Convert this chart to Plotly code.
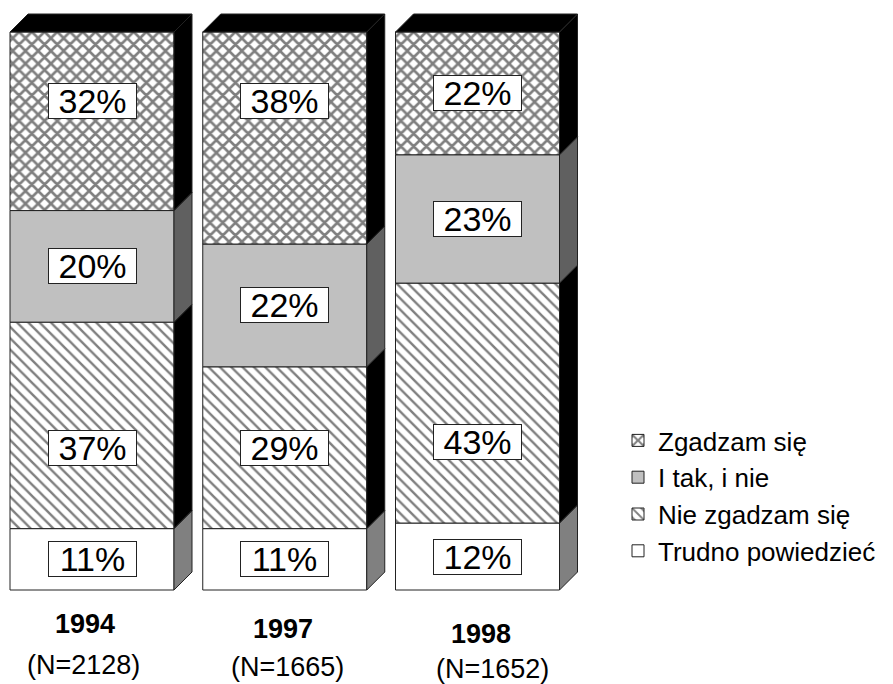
import plotly.graph_objects as go

# ---------------- data ----------------
years = ["1994", "1997", "1998"]
sample_n = ["(N=2128)", "(N=1665)", "(N=1652)"]
series_names = ["Trudno powiedzieć", "Nie zgadzam się", "I tak, i nie", "Zgadzam się"]
trudno = [11, 11, 12]
nie_zgadzam = [37, 29, 43]
i_tak_i_nie = [20, 22, 23]
zgadzam = [32, 38, 22]
values = [trudno, nie_zgadzam, i_tak_i_nie, zgadzam]

# ---------------- layout constants (pixels) ----------------
W, H = 893, 684
X0_PX, PITCH_PX, BAR_PX = 92.0, 192.75, 164.0
Y0_PX, Y100_PX = 590.0, 32.0
DEPTH_PX = 18.0
FONT = "Liberation Sans, Arial, sans-serif"

ppu_y = (Y0_PX - Y100_PX) / 100.0
x_range = [(0 - X0_PX) / PITCH_PX, (W - X0_PX) / PITCH_PX]
y_range = [-(H - Y0_PX) / ppu_y, 100 + Y100_PX / ppu_y]
bar_w = BAR_PX / PITCH_PX
dx = DEPTH_PX / PITCH_PX
dy = DEPTH_PX / ppu_y

styles = {
    "Trudno powiedzieć": dict(color="white", pattern=None, side="#808080"),
    "Nie zgadzam się": dict(color="white", pattern=dict(shape="\\", fgcolor="black", bgcolor="white", size=8, solidity=0.3), side="black"),
    "I tak, i nie": dict(color="#c0c0c0", pattern=None, side="#606060"),
    "Zgadzam się": dict(color="white", pattern=dict(shape="x", fgcolor="black", bgcolor="white", size=9, solidity=0.5), side="black"),
}

xs = list(range(len(years)))
fig = go.Figure()

bases = [0] * len(years)
seg_info = []
for name, vals in zip(series_names, values):
    st = styles[name]
    marker = dict(color=st["color"], line=dict(color="#222222", width=1))
    if st["pattern"]:
        marker["pattern"] = st["pattern"]
    fig.add_trace(go.Bar(
        x=xs, y=vals, base=bases, width=bar_w, name=name, marker=marker,
        hoverinfo="skip",
    ))
    seg_info.append((name, list(bases), list(vals)))
    bases = [b + v for b, v in zip(bases, vals)]

# side faces (3D effect) derived from stacked values
for name, bs, vs in seg_info:
    for i, (b, v) in enumerate(zip(bs, vs)):
        xr = xs[i] + bar_w / 2
        t = b + v
        fig.add_trace(go.Scatter(
            x=[xr, xr + dx, xr + dx, xr, xr],
            y=[b, b + dy, t + dy, t, b],
            fill="toself", fillcolor=styles[name]["side"],
            line=dict(color="#222222", width=1), mode="lines",
            showlegend=False, hoverinfo="skip",
        ))

# top faces
for i, tot in enumerate(bases):
    xl = xs[i] - bar_w / 2
    xr = xs[i] + bar_w / 2
    fig.add_trace(go.Scatter(
        x=[xl, xl + dx, xr + dx, xr, xl],
        y=[tot, tot + dy, tot + dy, tot, tot],
        fill="toself", fillcolor="black",
        line=dict(color="#222222", width=1), mode="lines",
        showlegend=False, hoverinfo="skip",
    ))

# value labels
annotations = []
for name, bs, vs in seg_info:
    for i, (b, v) in enumerate(zip(bs, vs)):
        yc = b + v / 2
        if name == "Zgadzam się":
            yc = max(yc, b + v - 12.3)
        elif name == "Nie zgadzam się":
            yc = min(yc, b + 14.5)
        annotations.append(dict(
            x=xs[i], y=yc, xref="x", yref="y", text=f"{v}%", showarrow=False,
            font=dict(family=FONT, size=34, color="black"),
            bgcolor="white", bordercolor="#222222", borderwidth=1, borderpad=0,
            width=87, height=34, xanchor="center", yanchor="middle",
        ))

# category labels (slightly staggered as in the original)
for i, (yr, n) in enumerate(zip(years, sample_n)):
    annotations.append(dict(
        x=xs[i] + (-7 + 5 * i) / PITCH_PX, y=-(624 + 5 * i - Y0_PX) / ppu_y,
        xref="x", yref="y", text=f"<b>{yr}</b>", showarrow=False,
        font=dict(family=FONT, size=27, color="black"),
        xanchor="center", yanchor="middle",
    ))
    annotations.append(dict(
        x=xs[i] + (-9 + 12 * i) / PITCH_PX, y=-(665 + 2 * i - Y0_PX) / ppu_y,
        xref="x", yref="y", text=n, showarrow=False,
        font=dict(family=FONT, size=27, color="black"),
        xanchor="center", yanchor="middle",
    ))

fig.update_layout(
    width=W, height=H, margin=dict(l=0, r=0, t=0, b=0),
    paper_bgcolor="white", plot_bgcolor="white",
    barmode="overlay",
    xaxis=dict(range=x_range, visible=False, fixedrange=True),
    yaxis=dict(range=y_range, visible=False, fixedrange=True),
    showlegend=True,
    legend=dict(
        x=618 / W, y=1 - 417 / H, xanchor="left", yanchor="top",
        traceorder="reversed",
        font=dict(family=FONT, size=26, color="black"),
        bgcolor="rgba(0,0,0,0)", itemwidth=30,
    ),
    annotations=annotations,
)

fig.write_html(
    "out.html",
    config={"displayModeBar": False},
    post_script="document.body.style.margin='0';document.body.style.overflow='hidden';",
)
